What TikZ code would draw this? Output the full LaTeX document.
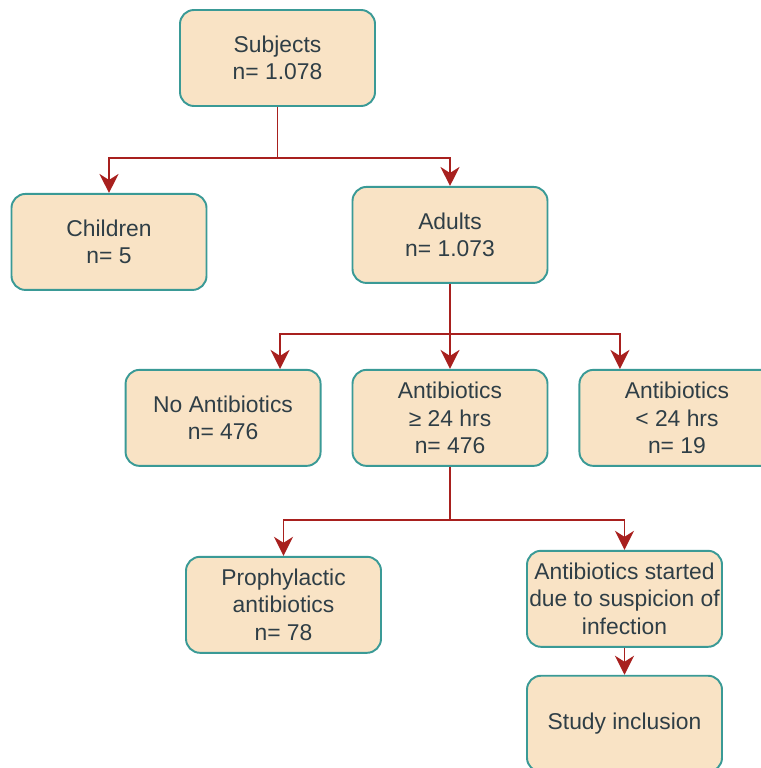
\documentclass[tikz,border=0pt]{standalone}
\usepackage{fontspec}
\setmainfont{Liberation Sans}
\usepackage{tikz}
\usetikzlibrary{arrows.meta, positioning}
\usepackage{xcolor}
\definecolor{boxfill}{HTML}{F9E3C5}
\definecolor{boxline}{HTML}{3A9A96}
\definecolor{arrowred}{HTML}{A8201E}
\definecolor{textgray}{HTML}{2F3E46}

\begin{document}
\begin{tikzpicture}[
node distance=1.7cm,
box/.style={draw=boxline, fill=boxfill, line width=1.1pt,
rounded corners=0.28cm,
minimum width=3.9cm,
minimum height=1.92cm,
inner xsep=1pt,
text=textgray, align=center,
font=\fontsize{13}{15.5}\selectfont},
arrow/.style={-{Stealth[length=3.8mm, width=3.8mm, inset=1.2mm]}, draw=arrowred, line width=1.1pt}
]
\useasboundingbox (0,0) rectangle (15.22,-15.36);

\node[box] (subj) at (5.55,-1.16) {Subjects\\n= 1.078};
\node[box, below=1.72cm of subj, xshift=-3.37cm] (child) {Children\\n= 5};
\node[box, below=1.58cm of subj, xshift=3.45cm] (adult) {Adults\\n= 1.073};

\node[box, below=of adult] (abge) {Antibiotics\\≥ 24 hrs\\n= 476};
\node[box, left=0.6cm of abge] (noab) {No Antibiotics\\n= 476};
\node[box, right=0.6cm of abge] (ablt) {Antibiotics\\< 24 hrs\\n= 19};

\node[box, below=1.78cm of abge, xshift=-3.33cm] (proph) {Prophylactic\\antibiotics\\n= 78};
\node[box, below=1.66cm of abge, xshift=3.49cm] (abinf) {Antibiotics started\\due to suspicion of\\infection};
\node[box, below=0.54cm of abinf] (study) {Study inclusion};

% subjects split
\draw[arrow] (subj.south) -- ++(0,-1.02) -| (child.north);
\draw[arrow] (subj.south) -- ++(0,-1.02) -| (adult.north);

% adults split
\draw[arrow] (adult.south) -- ++(0,-1.0) -| ([xshift=1.14cm]noab.north);
\draw[arrow] (adult.south) -- (abge.north);
\draw[arrow] (adult.south) -- ++(0,-1.0) -| ([xshift=-1.14cm]ablt.north);

% antibiotics split
\draw[arrow] (abge.south) -- ++(0,-1.06) -| (proph.north);
\draw[arrow] (abge.south) -- ++(0,-1.06) -| (abinf.north);
\draw[arrow] (abinf) -- (study);

\end{tikzpicture}
\end{document}
